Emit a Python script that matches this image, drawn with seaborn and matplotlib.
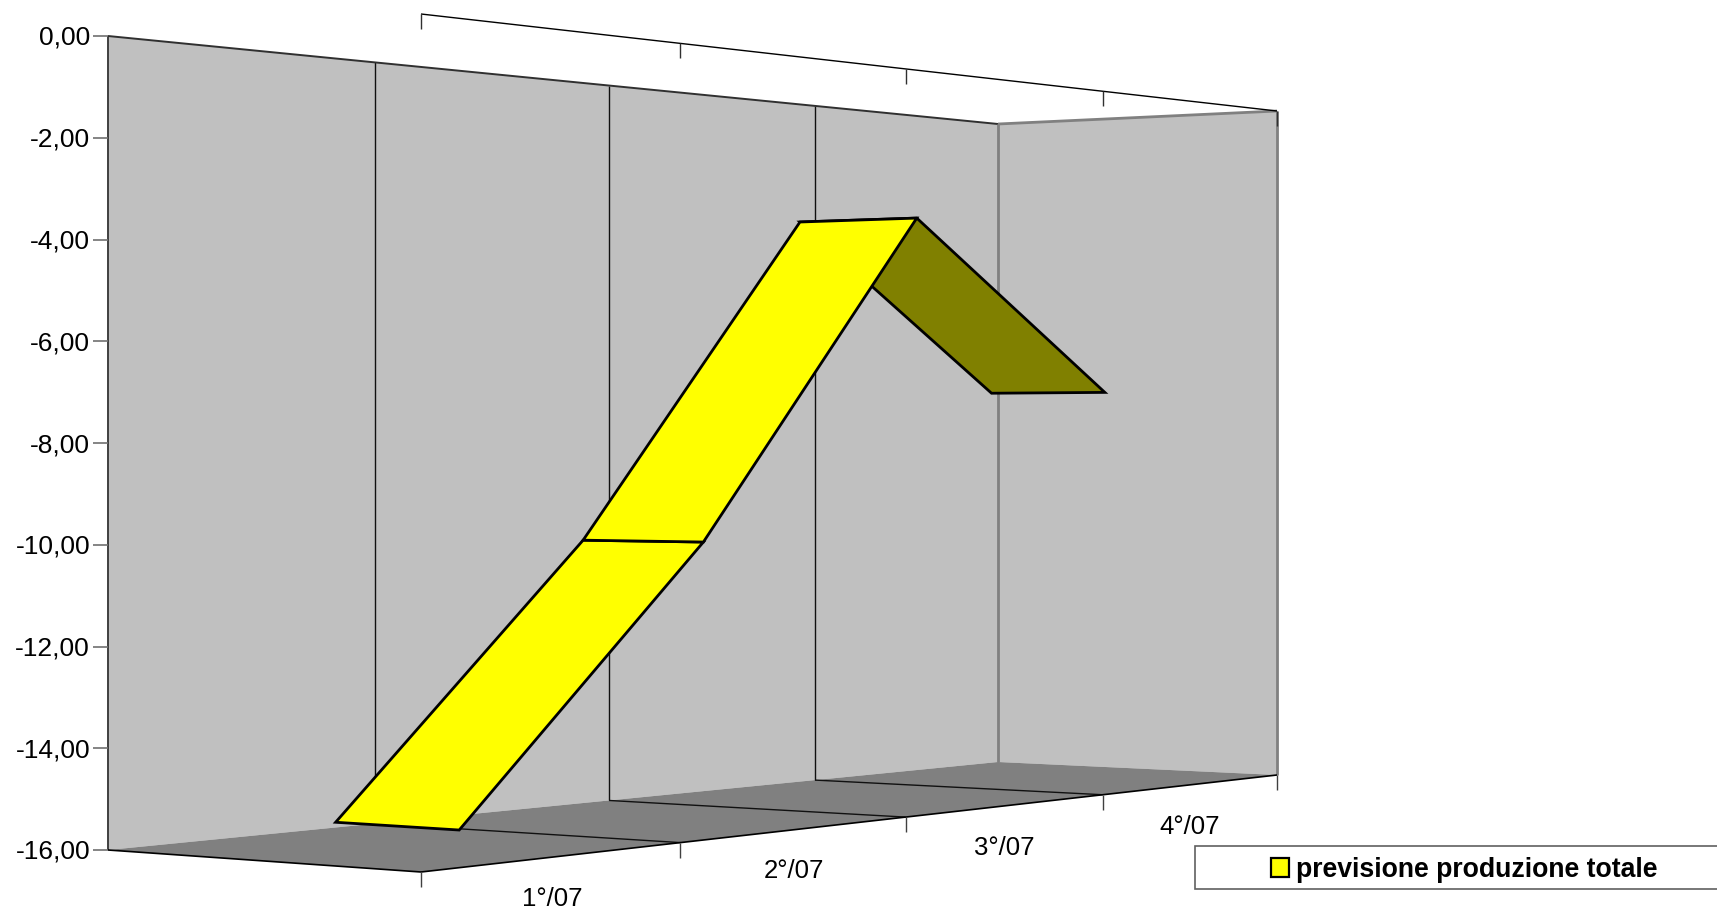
import numpy as np
import pandas as pd
import seaborn as sns
import matplotlib.pyplot as plt
from matplotlib.patches import Patch, Rectangle

categories = ["1°/07", "2°/07", "3°/07", "4°/07"]
values = [-15.6, -10.08, -2.97, -6.8]
series_name = "previsione produzione totale"
y_ticks = [0, -2, -4, -6, -8, -10, -12, -14, -16]
y_min = -16

W, H = 1717, 911
sns.set_theme(style="white")
plt.rcParams["font.family"] = ["Liberation Sans", "DejaVu Sans"]

# box corners in pixels, order (u,v) = (0,0) (1,0) (0,1) (1,1)
floor_px = [(421, 872), (1277, 775), (108, 850), (998, 762)]
top_px = [(421, 14), (1277, 111), (108, 36), (998, 124)]
DEPTH = (0.3, 0.7)


def homography(px):
    A, b = [], []
    for (u, v), (x, y) in zip([(0, 0), (1, 0), (0, 1), (1, 1)], px):
        A.append([u, v, 1, 0, 0, 0, -u * x, -v * x])
        A.append([0, 0, 0, u, v, 1, -u * y, -v * y])
        b += [x, y]
    return np.append(np.linalg.solve(np.array(A, float), np.array(b, float)), 1).reshape(3, 3)


HF, HT = homography(floor_px), homography(top_px)


def project(u, v, val):
    pf = HF @ [u, v, 1]
    pt = HT @ [u, v, 1]
    pf, pt = pf[:2] / pf[2], pt[:2] / pt[2]
    return tuple(pf + (pt - pf) * (1 - val / y_min))


fig = plt.figure(figsize=(W / 100, H / 100), dpi=100)
ax = fig.add_axes([0, 0, 1, 1])
ax.set_xlim(0, W)
ax.set_ylim(H, 0)
ax.axis("off")


def quad(pts, color, z, edge="none", lw=0):
    xs, ys = zip(*pts)
    ax.fill(xs, ys, facecolor=color, edgecolor=edge, linewidth=lw, zorder=z, joinstyle="miter")


def seg(a, b, color="black", lw=1.0, z=3):
    d = pd.DataFrame({"x": [a[0], b[0]], "y": [a[1], b[1]]})
    # estimator=None, otherwise vertical segments get averaged away
    sns.lineplot(data=d, x="x", y="y", sort=False, estimator=None, color=color, linewidth=lw, zorder=z,
                 errorbar=None, ax=ax, legend=False, solid_capstyle="butt")


# walls and floor
quad([project(0, 1, 0), project(1, 1, 0), project(1, 1, y_min), project(0, 1, y_min)], "#c0c0c0", 1)
quad([project(1, 1, 0), project(1, 0, 0), project(1, 0, y_min), project(1, 1, y_min)], "#c0c0c0", 1)
quad([project(0, 0, y_min), project(1, 0, y_min), project(1, 1, y_min), project(0, 1, y_min)], "#808080", 1)

seg(project(0, 1, 0), project(0, 1, y_min), "#404040", 1.4)
seg(project(0, 1, 0), project(1, 1, 0), "#303030", 1.4)
seg(project(1, 1, 0), project(1, 1, y_min), "#808080", 2)
seg(project(1, 1, 0), project(1, 0, 0), "#808080", 2)
seg(project(1, 0, 0), project(1, 0, y_min), "#808080", 2)

# outer front edges and the floating top edge
seg(project(0, 1, y_min), project(0, 0, y_min), "black", 1.2)
seg(project(0, 0, y_min), project(1, 0, y_min), "black", 1.2)
seg(project(0, 0, 0), project(1, 0, 0), "black", 1.0)

n = len(categories)
for i in range(n + 1):
    u = i / n
    bx, by = project(u, 0, y_min)
    tx, ty = project(u, 0, 0)
    seg((bx, by), (bx, by + 15), "#404040", 1.0)
    seg((tx, ty), (tx, ty + 15), "#303030", 1.0)
    if 0 < i < n:
        seg(project(u, 1, 0), project(u, 1, y_min), "#101010", 1.0, 2)
        seg(project(u, 1, y_min), project(u, 0, y_min), "#101010", 1.0, 2)

for i, lab in enumerate(categories):
    x, y = project((i + 0.5) / n, 0, y_min)
    ax.text(x - 3, y + 42, lab, fontsize=18.5, ha="center", va="center", color="black", zorder=5)

for t in y_ticks:
    x, y = project(0, 1, t)
    seg((x - 15, y), (x, y), "#707070", 1.2)
    ax.text(x - 18, y + 2, f"{t:.2f}".replace(".", ","), fontsize=19, ha="right", va="center", color="black", zorder=5)

# ribbon
fills = ["#ffff00", "#ffff00", "#808000"]
for i in [2, 0, 1]:
    u0, u1 = (i + 0.5) / n, (i + 1.5) / n
    pts = [project(u0, DEPTH[0], values[i]), project(u1, DEPTH[0], values[i + 1]),
           project(u1, DEPTH[1], values[i + 1]), project(u0, DEPTH[1], values[i])]
    quad(pts, fills[i], 4, "black", 2.0)

# legend box runs off the right side
ax.add_patch(Rectangle((1195, 846), 560, 43, facecolor="white", edgecolor="#606060", linewidth=1.2, zorder=3))
leg = ax.legend(handles=[Patch(facecolor="#ffff00", edgecolor="black", linewidth=1.6, label=series_name)],
                loc="center left", bbox_to_anchor=(1271 / W, 1 - 870 / H), frameon=False,
                prop={"weight": "bold", "size": 19.2}, handlelength=0.68, handleheight=0.68,
                handletextpad=0.27, borderpad=0, borderaxespad=0, labelcolor="black")
leg.set_zorder(6)

fig.savefig("out.png", dpi=100)
